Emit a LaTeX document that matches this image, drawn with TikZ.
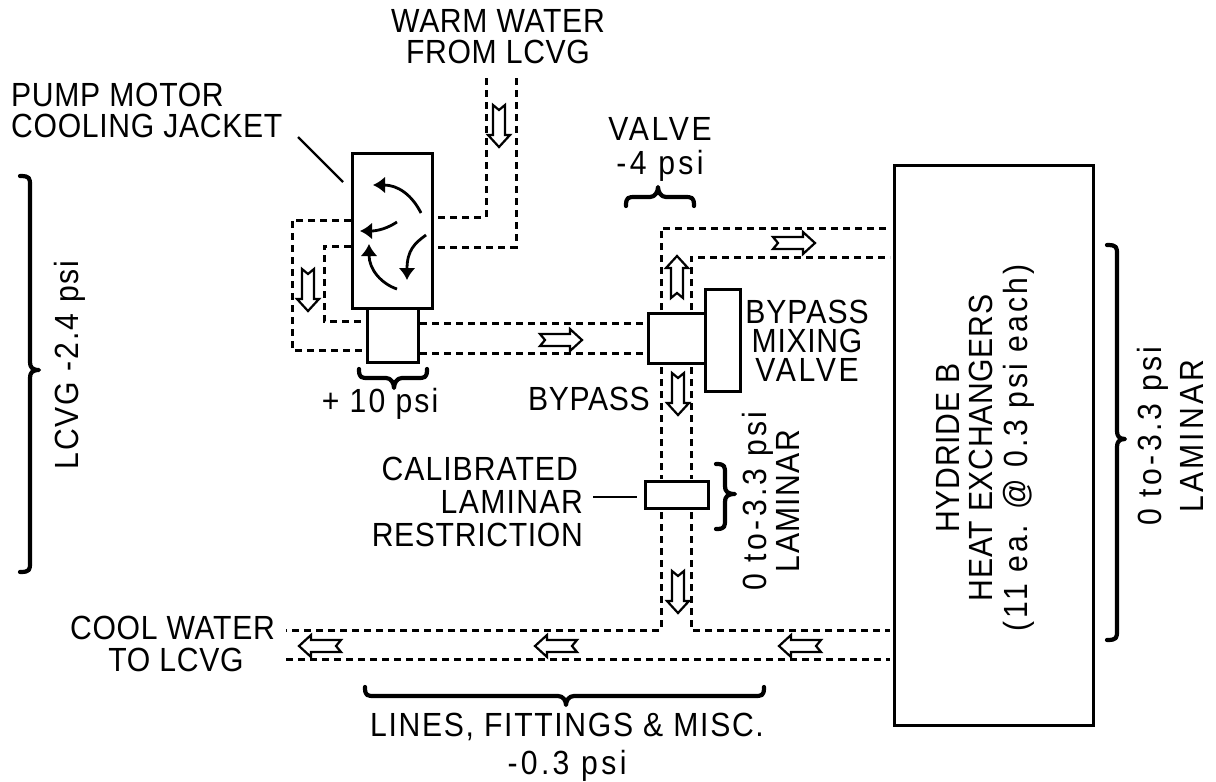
\documentclass[tikz,border=0pt]{standalone}
\usepackage{fontspec}
\setmainfont[LetterSpace=2,FakeStretch=0.9]{Liberation Sans}
\usetikzlibrary{arrows.meta}
\tikzset{
  box/.style={draw=black,line width=3pt,fill=white,inner sep=0pt,outer sep=0pt,anchor=north west},
  pipe/.style={draw=black,line width=3pt,dash pattern=on 7pt off 5pt},
  leader/.style={draw=black,line width=2.4pt},
  flow/.style={draw=black,line width=2.2pt,fill=white,line join=miter},
  swirl/.style={draw=black,line width=2.8pt,-{Latex[length=12pt,width=17pt]}},
  curly/.style={draw=black,line width=4.2pt,line cap=round,line join=round},
  lab/.style={font=\fontsize{33.5}{31}\selectfont,align=center,inner sep=0pt,text=black}
}
\newcommand{\flowarrow}[3]{\draw[flow,shift={(#1,#2)},rotate=#3] (-21,-6)--(-16,0)--(-21,6)--(9,6)--(9,11)--(21,0)--(9,-11)--(9,-6)--cycle;}
% vertical brace: end x, bar x, tip x, top y, tip y, bottom y
\newcommand{\vbrace}[6]{\draw[curly] (#1,#4) .. controls (#2,#4) and (#2,#4+2) .. (#2,#4+10) -- (#2,#5-8) .. controls (#2,#5-3) and (#2+2,#5) .. (#3,#5) .. controls (#2+2,#5) and (#2,#5+3) .. (#2,#5+8) -- (#2,#6-10) .. controls (#2,#6-2) and (#2,#6) .. (#1,#6);}
% horizontal brace: end y, bar y, tip y, left x, tip x, right x
\newcommand{\hbrace}[6]{\draw[curly] (#4,#1) .. controls (#4,#2) and (#4+2,#2) .. (#4+10,#2) -- (#5-8,#2) .. controls (#5-3,#2) and (#5,#2+#3/2-#2/2) .. (#5,#3) .. controls (#5,#2+#3/2-#2/2) and (#5+3,#2) .. (#5+8,#2) -- (#6-10,#2) .. controls (#6-2,#2) and (#6,#2) .. (#6,#1);}
\newcommand{\ls}[2]{{\addfontfeatures{LetterSpace=#1}#2}}
\begin{document}
\begin{tikzpicture}[x=1pt,y=-1pt]
\useasboundingbox (0,0) rectangle (1216,782);
% nodes
\node[box,minimum width=80pt,minimum height=155pt] (jacket) at (352,153) {};
\node[box,minimum width=51pt,minimum height=54pt] (motor) at (367,308) {};
\node[box,minimum width=57pt,minimum height=50pt] (valve) at (648,313) {};
\node[box,minimum width=35pt,minimum height=102pt] (mixer) at (705,289) {};
\node[box,minimum width=63pt,minimum height=27pt] (restr) at (645,481) {};
\node[box,minimum width=199pt,minimum height=560pt] (hydride) at (894,165) {};
% free ends and bends
\coordinate (w1) at (486,78); \coordinate (w1b) at (486,217); \coordinate (w1e) at (436,217);
\coordinate (w2) at (516,78); \coordinate (w2b) at (516,247); \coordinate (w2e) at (434,247);
\coordinate (l1s) at (351,220); \coordinate (l1a) at (292,220); \coordinate (l1b) at (292,350); \coordinate (l1e) at (363,350);
\coordinate (l2s) at (351,246); \coordinate (l2a) at (324,246); \coordinate (l2b) at (324,321); \coordinate (l2e) at (363,321);
\coordinate (m1s) at (420,323); \coordinate (m1e) at (644,323);
\coordinate (m2s) at (420,353); \coordinate (m2e) at (644,353);
\coordinate (u1s) at (661,310); \coordinate (u1b) at (661,228); \coordinate (u1e) at (890,228);
\coordinate (u2s) at (691,310); \coordinate (u2b) at (691,257); \coordinate (u2e) at (890,257);
\coordinate (d1s) at (661,367); \coordinate (d1e) at (661,479);
\coordinate (d2s) at (691,367); \coordinate (d2e) at (691,479);
\coordinate (r1s) at (661,512); \coordinate (r1b) at (661,630); \coordinate (r1e) at (286,630);
\coordinate (r2s) at (691,512); \coordinate (r2b) at (691,630); \coordinate (r2e) at (890,630);
\coordinate (bs) at (286,659); \coordinate (be) at (890,659);
% connectors
\draw[pipe] (w1)--(w1b)--(w1e);
\draw[pipe] (w2)--(w2b)--(w2e);
\draw[pipe] (l1s)--(l1a)--(l1b)--(l1e);
\draw[pipe] (l2s)--(l2a)--(l2b)--(l2e);
\draw[pipe] (m1s)--(m1e);
\draw[pipe] (m2s)--(m2e);
\draw[pipe] (u1s)--(u1b)--(u1e);
\draw[pipe] (u2s)--(u2b)--(u2e);
\draw[pipe] (d1s)--(d1e);
\draw[pipe] (d2s)--(d2e);
\draw[pipe] (r1s)--(r1b)--(r1e);
\draw[pipe] (r2s)--(r2b)--(r2e);
\draw[pipe] (bs)--(be);
% flow arrows
\flowarrow{499}{126}{-90}
\flowarrow{308}{290}{-90}
\flowarrow{561}{340}{0}
\flowarrow{794}{243}{0}
\flowarrow{677}{277}{90}
\flowarrow{678}{394}{-90}
\flowarrow{678}{592}{-90}
\flowarrow{320}{646}{180}
\flowarrow{556}{646}{180}
\flowarrow{800}{646}{180}
% swirl arrows
\draw[swirl] (421,213) .. controls (412,195) and (398,185) .. (373,185);
\draw[swirl] (397,222) .. controls (388,228) and (378,231) .. (360,231);
\draw[swirl] (397,289) .. controls (382,284) and (369,270) .. (369,244);
\draw[swirl] (426,235) .. controls (415,243) and (407,250) .. (407,280);
% leaders
\coordinate (lead1) at (298,137); \coordinate (lead1e) at (343,182);
\draw[leader] (lead1)--(lead1e);
\coordinate (lead2) at (593,497);
\draw[leader] (lead2)--(637,497);
% braces
\vbrace{20}{30}{39}{176}{370}{572}
\vbrace{1107}{1117}{1125}{245}{439}{640}
\vbrace{716}{725}{735}{464}{494}{529}
\hbrace{206}{197}{187}{626}{658}{694}
\hbrace{369}{378}{388}{359}{394}{427}
\hbrace{687}{696}{705}{365}{566}{764}
% labels
\node[lab] (t1) at (498,37) {WARM WATER\\FROM LCVG};
\node[lab,align=left,anchor=west] (t2) at (11,110) {PUMP MOTOR\\COOLING JACKET};
\node[lab] (t3) at (660,149) {\ls{8}{VALVE}\\[3pt]\ls{10}{-4 psi}};
\node[lab] (t4) at (380,404) {\ls{6}{+ 10 psi}};
\node[lab,anchor=east] (t5) at (650,399) {BYPASS};
\node[lab] (t6) at (807,341) {\ls{3}{BYPASS}\\[-2pt]MIXING\\[-2pt]\ls{8}{VALVE}};
\node[lab,align=right,anchor=east] (t7) at (583,502) {\ls{3}{CALIBRATED}\hspace*{5pt}\\[2pt]\ls{4}{LAMINAR}\\[2pt]RESTRICTION};
\node[lab,anchor=east] (t8) at (275,628) {COOL WATER};
\node[lab] (t9) at (176,660) {TO LCVG};
\node[lab] (t10) at (567,747) {\ls{5}{LINES, FITTINGS \& MISC.}\\[7pt]\ls{10}{-0.3 psi}};
\node[lab,rotate=90] (t11) at (70,365) {\ls{6}{LCVG -2.4 psi}};
\node[lab,rotate=90] (t12) at (771,501) {\ls{10}{0 to-3.3 psi}\\[2pt]\ls{4}{LAMINAR}};
\node[lab,rotate=90] (t13) at (1170,436) {\ls{10}{0 to-3.3 psi}\\[11pt]\ls{9}{LAMINAR}};
\node[lab,rotate=90] (t14) at (985,448) {HYDRIDE B\\[2pt]HEAT EXCHANGERS\\[4pt]\ls{9}{(11 ea. @ 0.3 psi each)}};
\end{tikzpicture}
\end{document}
